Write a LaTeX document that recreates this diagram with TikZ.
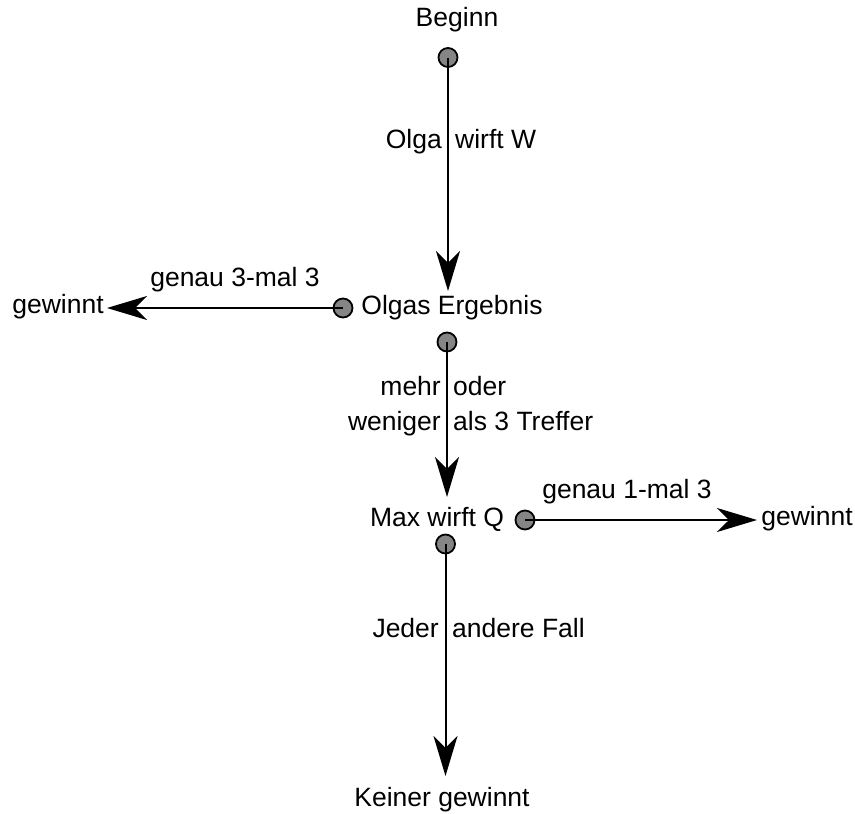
\documentclass[tikz,border=0pt]{standalone}
\usepackage{fontspec}
\setmainfont{Liberation Sans}
\usetikzlibrary{arrows.meta}
\begin{document}
\begin{tikzpicture}[x=1pt,y=-1pt,
  txt/.style={inner sep=0pt,font=\fontsize{26.5}{32}\selectfont},
  dot/.style={circle,draw=black,fill=black!48,line width=1.8pt,minimum size=19pt,inner sep=0pt},
  conn/.style={line width=2pt,-{Stealth[length=40pt,width=24pt,inset=12pt]}}]
\useasboundingbox (0,0) rectangle (855,814);
% text nodes
\node[txt] (beginn) at (457,20) {Beginn};
\node[txt] (olgaerg) at (452,308) {Olgas Ergebnis};
\node[txt] (gew1) at (58,307) {gewinnt};
\node[txt] (maxq) at (437,519) {Max wirft Q};
\node[txt] (gew2) at (807,519) {gewinnt};
\node[txt] (keiner) at (442,800) {Keiner gewinnt};
% dots
\node[dot] (d1) at (448,57.5) {};
\node[dot] (d2) at (343,308) {};
\node[dot] (d3) at (447,342) {};
\node[dot] (d4) at (525,520) {};
\node[dot] (d5) at (445.5,544) {};
% tips
\coordinate (t1) at (448,291);
\coordinate (t2) at (107,308);
\coordinate (t3) at (447,497);
\coordinate (t4) at (757,520);
\coordinate (t5) at (445.5,776);
% connectors
\draw[conn] (d1.center) -- (t1);
\draw[conn] (d2.center) -- (t2);
\draw[conn] (d3.center) -- (t3);
\draw[conn] (d4.center) -- (t4);
\draw[conn] (d5.center) -- (t5);
% labels
\node[txt,anchor=base east] (l1a) at (442,148) {Olga};
\node[txt,anchor=base west] (l1b) at (455,148) {wirft W};
\node[txt] (l2) at (235,280) {genau 3-mal 3};
\node[txt,anchor=base east] (l3a) at (441,395) {mehr};
\node[txt,anchor=base west] (l3b) at (453,395) {oder};
\node[txt,anchor=base east] (l3c) at (441,430) {weniger};
\node[txt,anchor=base west] (l3d) at (453,430) {als 3 Treffer};
\node[txt] (l4) at (627,492) {genau 1-mal 3};
\node[txt,anchor=base east] (l5a) at (439,637) {Jeder};
\node[txt,anchor=base west] (l5b) at (452,637) {andere Fall};
\end{tikzpicture}
\end{document}
